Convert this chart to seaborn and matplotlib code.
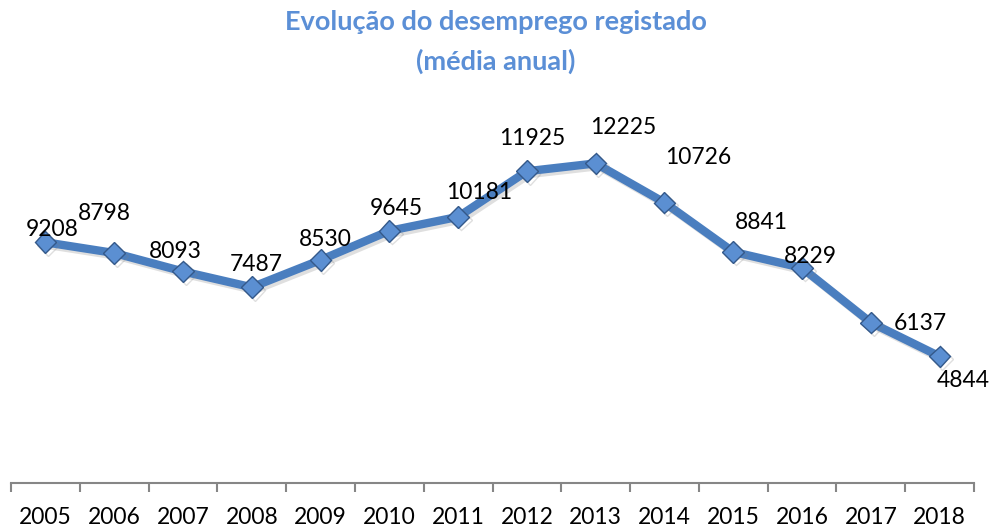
import numpy as np
import pandas as pd
import seaborn as sns
import matplotlib
matplotlib.use("Agg")
import matplotlib.pyplot as plt
from matplotlib import patheffects as pe

years = ["2005", "2006", "2007", "2008", "2009", "2010", "2011",
         "2012", "2013", "2014", "2015", "2016", "2017", "2018"]
values = [9208, 8798, 8093, 7487, 8530, 9645, 10181,
          11925, 12225, 10726, 8841, 8229, 6137, 4844]
# label offsets in pixels (dx, dy upward)
label_dx = [7, -10, -8, 4, 5, 7, 21, 5, 28, 34, 28, 8, 49, 24]
label_dy = [13, 39, 20, 23, 21, 22, 24, 33, 36, 45, 29, 11, -1, -24]

title = "Evolução do desemprego registado\n(média anual)"

sns.set_theme(style="white")
plt.rcParams["font.family"] = ["Lato", "DejaVu Sans"]

fig = plt.figure(figsize=(9.92, 5.28), dpi=100)
ax = fig.add_axes([11 / 992, (528 - 483) / 528, (974 - 11) / 992, (483 - 117) / 528])

df = pd.DataFrame({"year": years, "value": values})
line_color = "#4A7EBF"
sns.lineplot(data=df, x="year", y="value", ax=ax, color=line_color,
             linewidth=6, marker="D", markersize=11,
             markerfacecolor="#5B8FD2", markeredgecolor="#34598A",
             markeredgewidth=1.0, sort=False)
for ln in ax.lines:
    ln.set_path_effects([pe.SimpleLineShadow(offset=(2, -2), alpha=0.25, shadow_color="gray"), pe.Normal()])

for i, (v, dx, dy) in enumerate(zip(values, label_dx, label_dy)):
    ax.annotate(str(v), (i, v), xytext=(dx, dy), textcoords="offset pixels",
                ha="center", va="center", fontsize=16.5, color="black")

ax.set_xlim(-0.5, len(years) - 0.5)
ax.set_ylim(0, 14000)
ax.set_xlabel("")
ax.set_ylabel("")
ax.set_yticks([])
ax.set_xticks(range(len(years)))
ax.set_xticklabels(years)
ax.set_xticks(np.arange(-0.5, len(years)), minor=True)
ax.tick_params(axis="x", which="major", length=0, pad=17, labelsize=16.5, labelcolor="black")
ax.tick_params(axis="x", which="minor", length=6.5, width=1.5, color="#868686", direction="out", bottom=True)
for s in ["top", "right", "left"]:
    ax.spines[s].set_visible(False)
ax.spines["bottom"].set_color("#868686")
ax.spines["bottom"].set_linewidth(1.5)

fig.text(0.5, 1 - 42 / 528, title, ha="center", va="center", fontsize=19.5,
         fontweight="bold", color="#5B8FD6", linespacing=1.65)

fig.savefig("out.png", dpi=100)
